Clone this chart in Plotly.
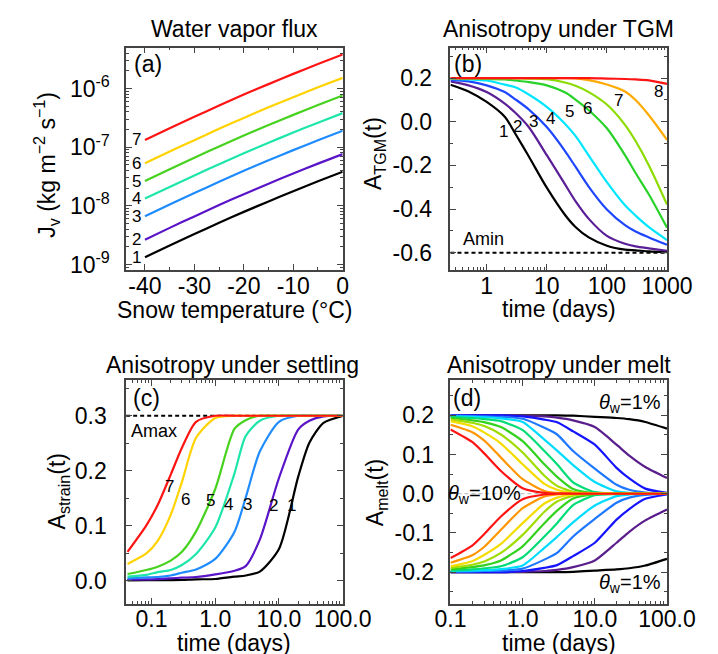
import math
import plotly.graph_objects as go

W, H = 718, 654
FONT = "Liberation Sans"
AXC = "#444444"

# ---------------- data ----------------
# (a) water vapour flux vs snow temperature
temp_c = [-40, -35, -30, -25, -20, -15, -10, -5, 0]
jv1 = [1.33e-9, 2.10e-9, 3.30e-9, 5.14e-9, 7.89e-9, 1.19e-8, 1.78e-8, 2.62e-8, 3.81e-8]
jv2 = [2.65e-9, 4.21e-9, 6.61e-9, 1.03e-8, 1.58e-8, 2.39e-8, 3.56e-8, 5.25e-8, 7.62e-8]
jv3 = [6.64e-9, 1.05e-8, 1.65e-8, 2.57e-8, 3.95e-8, 5.97e-8, 8.91e-8, 1.31e-7, 1.91e-7]
jv4 = [1.33e-8, 2.10e-8, 3.30e-8, 5.14e-8, 7.89e-8, 1.19e-7, 1.78e-7, 2.62e-7, 3.81e-7]
jv5 = [2.65e-8, 4.21e-8, 6.61e-8, 1.03e-7, 1.58e-7, 2.39e-7, 3.56e-7, 5.25e-7, 7.62e-7]
jv6 = [5.31e-8, 8.42e-8, 1.32e-7, 2.06e-7, 3.16e-7, 4.78e-7, 7.13e-7, 1.05e-6, 1.52e-6]
jv7 = [1.33e-7, 2.10e-7, 3.30e-7, 5.14e-7, 7.89e-7, 1.19e-6, 1.78e-6, 2.62e-6, 3.81e-6]
jv_labels = ["1", "2", "3", "4", "5", "6", "7"]

# (b) anisotropy under TGM
t_tgm = [0.25, 0.5, 1, 2, 3, 5, 10, 20, 30, 50, 100, 200, 300, 500, 1000]
tgm1 = [0.170, 0.139, 0.091, 0.023, -0.055, -0.158, -0.302, -0.426, -0.482, -0.530, -0.568, -0.586, -0.589, -0.594, -0.597]
tgm2 = [0.185, 0.167, 0.136, 0.083, 0.041, -0.024, -0.153, -0.286, -0.364, -0.445, -0.523, -0.559, -0.571, -0.580, -0.591]
tgm3 = [0.192, 0.185, 0.167, 0.136, 0.103, 0.057, -0.024, -0.133, -0.206, -0.298, -0.402, -0.474, -0.503, -0.530, -0.564]
tgm4 = [0.197, 0.194, 0.189, 0.170, 0.158, 0.125, 0.068, -0.009, -0.065, -0.155, -0.277, -0.383, -0.430, -0.483, -0.542]
tgm5 = [0.200, 0.198, 0.197, 0.194, 0.189, 0.182, 0.167, 0.135, 0.102, 0.053, -0.030, -0.153, -0.235, -0.333, -0.485]
tgm6 = [0.200, 0.200, 0.200, 0.200, 0.199, 0.198, 0.195, 0.180, 0.165, 0.136, 0.079, -0.014, -0.088, -0.200, -0.379]
tgm7 = [0.200, 0.200, 0.200, 0.200, 0.200, 0.200, 0.200, 0.200, 0.199, 0.191, 0.171, 0.139, 0.100, 0.030, -0.083]
tgm8 = [0.200, 0.200, 0.200, 0.200, 0.200, 0.200, 0.200, 0.200, 0.200, 0.200, 0.198, 0.196, 0.194, 0.190, 0.174]
a_min = -0.6
tgm_labels = ["1", "2", "3", "4", "5", "6", "7", "8"]

# (c) anisotropy under settling
t_strain = [0.042, 0.083, 0.125, 0.2, 0.3, 0.5, 1, 2, 3, 5, 10, 20, 30, 50, 100]
st1 = [0.0012, 0.0013, 0.0014, 0.0015, 0.0018, 0.0030, 0.0036, 0.0078, 0.010, 0.017, 0.058, 0.189, 0.251, 0.287, 0.2995]
st2 = [0.0024, 0.0030, 0.0035, 0.0048, 0.0060, 0.0072, 0.012, 0.0186, 0.027, 0.075, 0.187, 0.275, 0.291, 0.299, 0.300]
st3 = [0.0048, 0.0066, 0.0072, 0.010, 0.015, 0.021, 0.040, 0.089, 0.151, 0.235, 0.289, 0.300, 0.300, 0.300, 0.300]
st4 = [0.008, 0.011, 0.016, 0.020, 0.029, 0.049, 0.097, 0.195, 0.263, 0.291, 0.300, 0.300, 0.300, 0.300, 0.300]
st5 = [0.0126, 0.020, 0.026, 0.037, 0.053, 0.090, 0.167, 0.276, 0.292, 0.300, 0.300, 0.300, 0.300, 0.300, 0.300]
st6 = [0.031, 0.050, 0.073, 0.120, 0.180, 0.260, 0.296, 0.300, 0.300, 0.300, 0.300, 0.300, 0.300, 0.300, 0.300]
st7 = [0.053, 0.101, 0.138, 0.193, 0.242, 0.289, 0.300, 0.300, 0.300, 0.300, 0.300, 0.300, 0.300, 0.300, 0.300]
a_max = 0.3
st_labels = ["1", "2", "3", "4", "5", "6", "7"]

# (d) anisotropy under melt (theta_w = 1% ... 10%)
t_melt = [0.1, 0.2, 0.3, 0.5, 1, 2, 3, 5, 10, 20, 30, 50, 100]
mu1 = [0.200, 0.200, 0.200, 0.200, 0.200, 0.200, 0.200, 0.199, 0.196, 0.193, 0.190, 0.183, 0.166]
mu2 = [0.200, 0.200, 0.200, 0.200, 0.199, 0.197, 0.194, 0.187, 0.170, 0.125, 0.097, 0.068, 0.040]
mu3 = [0.200, 0.200, 0.200, 0.200, 0.197, 0.189, 0.182, 0.159, 0.125, 0.066, 0.039, 0.013, 0.002]
mu4 = [0.199, 0.198, 0.197, 0.196, 0.191, 0.168, 0.151, 0.109, 0.064, 0.023, 0.010, 0.003, 0.000]
mu5 = [0.197, 0.196, 0.195, 0.192, 0.183, 0.138, 0.110, 0.073, 0.030, 0.006, 0.002, 0.000, 0.000]
mu6 = [0.196, 0.193, 0.190, 0.185, 0.162, 0.109, 0.075, 0.029, 0.004, 0.001, 0.000, 0.000, 0.000]
mu7 = [0.193, 0.187, 0.182, 0.170, 0.134, 0.075, 0.043, 0.012, 0.001, 0.000, 0.000, 0.000, 0.000]
mu8 = [0.189, 0.181, 0.172, 0.151, 0.105, 0.046, 0.020, 0.005, 0.000, 0.000, 0.000, 0.000, 0.000]
mu9 = [0.185, 0.172, 0.155, 0.128, 0.075, 0.025, 0.010, 0.002, 0.000, 0.000, 0.000, 0.000, 0.000]
mu10 = [0.176, 0.157, 0.134, 0.092, 0.037, 0.007, 0.002, 0.000, 0.000, 0.000, 0.000, 0.000, 0.000]
mu11 = [0.164, 0.132, 0.101, 0.058, 0.014, 0.002, 0.000, 0.000, 0.000, 0.000, 0.000, 0.000, 0.000]
ml1 = [-0.200, -0.200, -0.200, -0.200, -0.200, -0.200, -0.200, -0.199, -0.196, -0.193, -0.190, -0.183, -0.166]
ml2 = [-0.200, -0.200, -0.200, -0.200, -0.199, -0.197, -0.194, -0.187, -0.170, -0.125, -0.097, -0.068, -0.040]
ml3 = [-0.200, -0.200, -0.200, -0.200, -0.197, -0.189, -0.182, -0.159, -0.125, -0.066, -0.039, -0.013, -0.002]
ml4 = [-0.199, -0.198, -0.197, -0.196, -0.191, -0.168, -0.151, -0.109, -0.064, -0.023, -0.010, -0.003, 0.000]
ml5 = [-0.197, -0.196, -0.195, -0.192, -0.183, -0.138, -0.110, -0.073, -0.030, -0.006, -0.002, 0.000, 0.000]
ml6 = [-0.196, -0.193, -0.190, -0.185, -0.162, -0.109, -0.075, -0.029, -0.004, -0.001, 0.000, 0.000, 0.000]
ml7 = [-0.193, -0.187, -0.182, -0.170, -0.134, -0.075, -0.043, -0.012, -0.001, 0.000, 0.000, 0.000, 0.000]
ml8 = [-0.189, -0.181, -0.172, -0.151, -0.105, -0.046, -0.020, -0.005, 0.000, 0.000, 0.000, 0.000, 0.000]
ml9 = [-0.185, -0.172, -0.155, -0.128, -0.075, -0.025, -0.010, -0.002, 0.000, 0.000, 0.000, 0.000, 0.000]
ml10 = [-0.176, -0.157, -0.134, -0.092, -0.037, -0.007, -0.002, 0.000, 0.000, 0.000, 0.000, 0.000, 0.000]
ml11 = [-0.164, -0.132, -0.101, -0.058, -0.014, -0.002, 0.000, 0.000, 0.000, 0.000, 0.000, 0.000, 0.000]

# ---------------- styles ----------------
COL_A = ["#000000", "#5a14c8", "#1e8cff", "#1ee6aa", "#46d21e", "#ffd200", "#ff1414"]
COL_B = ["#000000", "#5a1e96", "#1e46ff", "#00e6ff", "#28d228", "#8cdc00", "#ffaa00", "#ff1414"]
COL_D = ["#000000", "#5a1e8c", "#1414ff", "#1e78ff", "#00dcff", "#00dc78",
         "#32d21e", "#a0dc00", "#f5dc00", "#ff9600", "#ff1414"]

fig = go.Figure()


def add_line(xs, ys, color, xa, ya, smoothing=0.8):
    fig.add_trace(go.Scatter(x=xs, y=ys, mode="lines",
                             line=dict(color=color, width=2.2, shape="spline", smoothing=smoothing),
                             xaxis=xa, yaxis=ya, showlegend=False, hoverinfo="skip"))


for s, c in zip([jv1, jv2, jv3, jv4, jv5, jv6, jv7], COL_A):
    add_line(temp_c, s, c, "x", "y")
for s, c in zip([tgm1, tgm2, tgm3, tgm4, tgm5, tgm6, tgm7, tgm8], COL_B):
    add_line(t_tgm, s, c, "x2", "y2")
for s, c in zip([st1, st2, st3, st4, st5, st6, st7], COL_A):
    add_line(t_strain, s, c, "x3", "y3", smoothing=0.7)
for s, c in zip([mu1, mu2, mu3, mu4, mu5, mu6, mu7, mu8, mu9, mu10, mu11], COL_D):
    add_line(t_melt, s, c, "x4", "y4", smoothing=0.6)
for s, c in zip([ml1, ml2, ml3, ml4, ml5, ml6, ml7, ml8, ml9, ml10, ml11], COL_D):
    add_line(t_melt, s, c, "x4", "y4", smoothing=0.6)

# ---------------- axes ----------------
XL = [109 / W, 340 / W]
XR = [455 / W, 686 / W]
YT = [1 - 265 / H, 1 - 40 / H]
YB = [1 - 602 / H, 1 - 376 / H]


def axis(domain, anchor, rng, tickvals, ticktext, minor_vals, typ="linear", standoff=-6):
    return dict(domain=domain, anchor=anchor, range=rng, type=typ,
                showline=True, linecolor=AXC, linewidth=1.5, mirror="allticks",
                ticks="inside", ticklen=6, tickwidth=1.2, tickcolor=AXC,
                showgrid=False, zeroline=False,
                tickmode="array", tickvals=tickvals, ticktext=ticktext,
                ticklabelstandoff=standoff,
                tickfont=dict(family=FONT, size=23, color="black"),
                minor=dict(ticks="inside", ticklen=3, tickwidth=1, tickcolor=AXC,
                           showgrid=False, tickmode="array", tickvals=minor_vals))


log_minor_a = [k * 10.0 ** e for e in range(-10, -5) for k in range(2, 10)]
log_minor_t = [k * 10.0 ** e for e in range(-2, 3) for k in range(2, 10)]

fig.update_layout(
    xaxis=axis(XL, "y", [-43.8, 0], [-40, -30, -20, -10, 0], ["-40", "-30", "-20", "-10", "0"],
               [-35, -25, -15, -5]),
    yaxis=axis(YT, "x", [math.log10(8e-10), math.log10(5e-6)], [1e-9, 1e-8, 1e-7, 1e-6],
               ["10<sup>-9</sup>", "10<sup>-8</sup>", "10<sup>-7</sup>", "10<sup>-6</sup>"],
               log_minor_a, typ="log", standoff=10),
    xaxis2=axis(XR, "y2", [math.log10(0.25), 3], [1, 10, 100, 1000], ["1", "10", "100", "1000"],
                log_minor_t, typ="log"),
    yaxis2=axis(YT, "x2", [-0.68, 0.34], [-0.6, -0.4, -0.2, 0.0, 0.2],
                ["-0.6", "-0.4", "-0.2", "0.0", "0.2"], [-0.5, -0.3, -0.1, 0.1, 0.3], standoff=12),
    xaxis3=axis(XL, "y3", [math.log10(0.04), 2], [0.1, 1, 10, 100], ["0.1", "1.0", "10.0", "100.0"],
                log_minor_t, typ="log"),
    yaxis3=axis(YB, "x3", [-0.041, 0.365], [0.0, 0.1, 0.2, 0.3], ["0.0", "0.1", "0.2", "0.3"],
                [0.05, 0.15, 0.25, 0.35], standoff=13),
    xaxis4=axis(XR, "y4", [-1, 2], [0.1, 1, 10, 100], ["0.1", "1.0", "10.0", "100.0"],
                log_minor_t, typ="log"),
    yaxis4=axis(YB, "x4", [-0.28, 0.29], [-0.2, -0.1, 0.0, 0.1, 0.2],
                ["-0.2", "-0.1", "0.0", "0.1", "0.2"], [-0.25, -0.15, -0.05, 0.05, 0.15, 0.25],
                standoff=10),
)

# reference lines
fig.add_shape(type="line", xref="x2 domain", x0=0, x1=1, yref="y2", y0=a_min, y1=a_min,
              line=dict(color="black", width=2, dash="4px,3px"), layer="below")
fig.add_shape(type="line", xref="x3 domain", x0=0, x1=1, yref="y3", y0=a_max, y1=a_max,
              line=dict(color="black", width=2, dash="4px,3px"), layer="below")
fig.add_shape(type="line", xref="x4 domain", x0=0, x1=1, yref="y4", y0=0, y1=0,
              line=dict(color="#b4b4b4", width=1, dash="4px,3px"), layer="below")


# ---------------- text ----------------
def txt(s, px, py, size=22, angle=0, xanchor="center", yanchor="middle"):
    fig.add_annotation(text=s, x=px / W, y=1 - py / H, xref="paper", yref="paper",
                       showarrow=False, textangle=angle, xanchor=xanchor, yanchor=yanchor,
                       font=dict(family=FONT, size=size, color="black"))


# panel titles
txt("Water vapor flux", 224.5, 21.5, size=23)
txt("Anisotropy under TGM", 570.5, 21.5, size=23)
txt("Anisotropy under settling", 222, 360.5, size=23)
txt("Anisotropy under melt", 570.5, 360.5, size=23)
# x titles
txt("Snow temperature (°C)", 224.5, 305, size=23)
txt("time (days)", 570.5, 304, size=23)
txt("time (days)", 224.5, 642, size=23)
txt("time (days)", 570.5, 642, size=23)
# y titles
txt("J<sub>v</sub> (kg m<sup>−2</sup> s<sup>−1</sup>)", 24, 158, size=23, angle=-90)
txt("A<sub>TGM</sub>(t)", 374, 147, size=23, angle=-90)
txt("A<sub>strain</sub>(t)", 37, 489, size=23, angle=-90)
txt("A<sub>melt</sub>(t)", 376, 490, size=23, angle=-90)
# panel letters
txt("(a)", 132, 57, size=23)
txt("(b)", 474, 57, size=23)
txt("(c)", 131, 394, size=23)
txt("(d)", 473, 394, size=23)

# (a) curve numbers at curve starts
for lab, s in zip(jv_labels, [jv1, jv2, jv3, jv4, jv5, jv6, jv7]):
    fig.add_annotation(text=lab, x=-41.7, y=math.log10(s[0]), xref="x", yref="y",
                       showarrow=False, font=dict(family=FONT, size=17, color="black"))

# (b) labels
for lab, (px, py) in zip(tgm_labels, [(511.7, 125), (526.7, 120), (543.3, 115), (561.7, 111.7),
                                      (581.7, 105), (601.7, 101.7), (634.3, 93.3), (676.7, 84.3)]):
    txt(lab, px, py, size=17)
txt("Amin", 490, 234, size=18)

# (c) labels
for lab, (px, py) in zip(st_labels, [(285.7, 502.7), (265.7, 502.7), (238, 501.7), (218, 501.7),
                                     (199, 498.3), (172.3, 496.7), (154.7, 483.3)]):
    txt(lab, px, py, size=17)
txt("Amax", 139, 428, size=18)

# (d) labels
txt("<i>θ</i><sub>w</sub>=1%", 646, 400, size=20)
txt("<i>θ</i><sub>w</sub>=1%", 646, 582, size=20)
txt("<i>θ</i><sub>w</sub>=10%", 491, 492, size=20)

fig.update_layout(width=W, height=H, autosize=False,
                  margin=dict(l=0, r=0, t=0, b=0),
                  paper_bgcolor="white", plot_bgcolor="white",
                  font=dict(family=FONT, size=22, color="black"))

fig.write_html("out.html")
